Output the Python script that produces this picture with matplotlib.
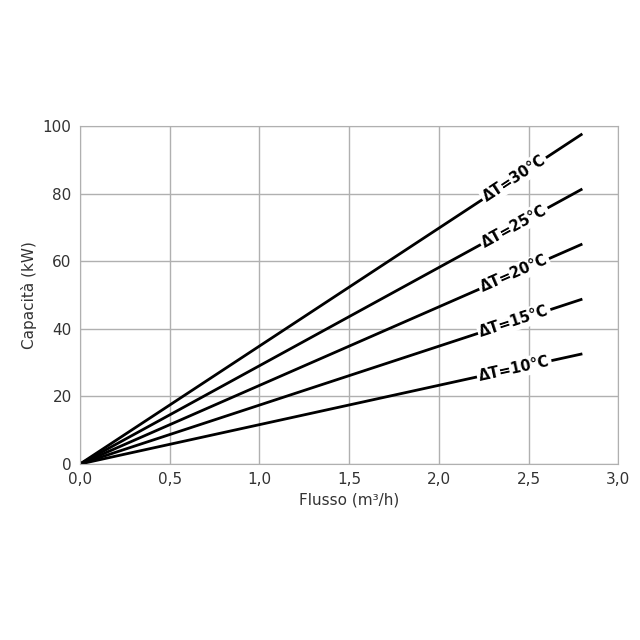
import matplotlib
matplotlib.use("Agg")
import matplotlib.pyplot as plt
import numpy as np

flow = [0.0, 2.8]
delta_t = [30, 25, 20, 15, 10]
capacity_end = [97.7, 81.4, 65.1, 48.8, 32.6]
labels = ["ΔT=30°C", "ΔT=25°C", "ΔT=20°C", "ΔT=15°C", "ΔT=10°C"]
label_x = 2.42

fig = plt.figure(figsize=(6.4, 6.4), dpi=100)
ax = fig.add_axes([0.125, 0.275, 0.841, 0.528])
ax.set_xlim(0, 3.0)
ax.set_ylim(0, 100)
ax.set_xticks(np.arange(0, 3.01, 0.5))
ax.set_xticklabels([f"{v:.1f}".replace(".", ",") for v in np.arange(0, 3.01, 0.5)])
ax.set_yticks(range(0, 101, 20))
ax.grid(True, color="#b0b0b0", linewidth=1)
ax.set_axisbelow(True)
for s in ax.spines.values():
    s.set_color("#b0b0b0")
ax.tick_params(length=0, labelsize=11, colors="#333333", pad=6)
ax.set_xlabel("Flusso (m³/h)", fontsize=11, color="#333333")
ax.set_ylabel("Capacità (kW)", fontsize=11, color="#333333")

fig.canvas.draw()
for cap, lab in zip(capacity_end, labels):
    ax.plot(flow, [0, cap], color="black", linewidth=2, solid_capstyle="butt")
    p0 = ax.transData.transform((0, 0))
    p1 = ax.transData.transform((flow[1], cap))
    ang = np.degrees(np.arctan2(p1[1] - p0[1], p1[0] - p0[0]))
    y = cap * label_x / flow[1]
    ax.text(label_x, y, lab, rotation=ang, rotation_mode="anchor", ha="center", va="center",
            fontsize=10.5, fontweight="bold", color="black",
            bbox=dict(facecolor="white", edgecolor="none", pad=1.5))

fig.savefig("out.png", dpi=100)
